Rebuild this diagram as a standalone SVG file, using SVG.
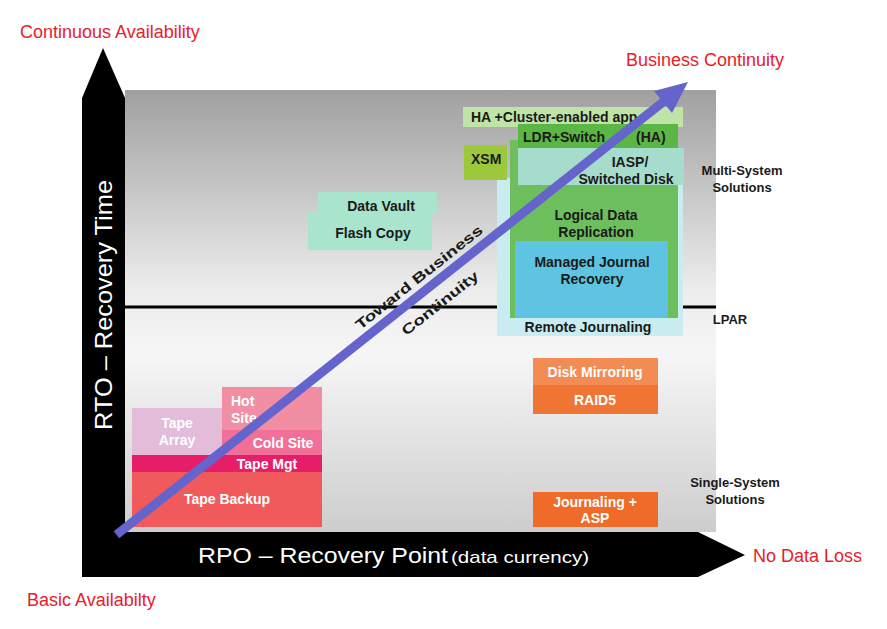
<svg xmlns="http://www.w3.org/2000/svg" width="887" height="629" viewBox="0 0 887 629">
<defs>
<linearGradient id="panel" x1="0" y1="0" x2="0" y2="1">
<stop offset="0" stop-color="#a0a0a0"/>
<stop offset="0.45" stop-color="#ececec"/>
<stop offset="0.6" stop-color="#f6f6f6"/>
<stop offset="1" stop-color="#cdcdcd"/>
</linearGradient>
<style>
.red{font-family:"Liberation Sans",Arial,sans-serif;font-size:18px;fill:#e8202a}
.lbl{font-family:"Liberation Sans",Arial,sans-serif;font-size:14px;font-weight:bold;fill:#1a1a1a}
.wl{font-family:"Liberation Sans",Arial,sans-serif;font-size:14px;font-weight:bold;fill:#ffffff}
.ax{font-family:"Liberation Sans",Arial,sans-serif;fill:#ffffff}
.side{font-family:"Liberation Sans",Arial,sans-serif;font-size:13px;font-weight:bold;fill:#1a1a1a}
.arrow{fill:#6464cc;stroke:none}
</style>
</defs>
<rect width="887" height="629" fill="#ffffff"/>

<g id="panel-bg">
<rect x="125" y="90" width="591" height="442" fill="url(#panel)"/>
</g>

<g id="y-axis">
<polygon points="103,48 125,98 125,577 82,577 82,98" fill="#000000"/>
<text class="ax" font-size="24" transform="translate(112,305) rotate(-90)" text-anchor="middle" textLength="250" lengthAdjust="spacingAndGlyphs">RTO – Recovery Time</text>
</g>
<g id="x-axis">
<polygon points="82,532 698,532 745,555 698,577 82,577" fill="#000000"/>
<text class="ax" x="198" y="563" font-size="22" textLength="250" lengthAdjust="spacingAndGlyphs">RPO – Recovery Point</text>
<text class="ax" x="451" y="563" font-size="17" textLength="138" lengthAdjust="spacingAndGlyphs">(data currency)</text>
</g>

<g id="lpar-line">
<line x1="125" y1="307" x2="716" y2="307" stroke="#000000" stroke-width="3"/>
</g>

<g id="remote-journaling">
<rect x="497" y="178" width="186" height="158" fill="#c8ecf0"/>
<text class="lbl" x="588" y="332" text-anchor="middle">Remote Journaling</text>
</g>
<g id="ha-cluster">
<rect x="463" y="107" width="220" height="20" fill="#bfe4a8"/>
<text class="lbl" x="471" y="122">HA +Cluster-enabled app</text>
</g>
<g id="logical-data-replication">
<rect x="510" y="140" width="168" height="178" fill="#6dbf5e"/>
<text class="lbl" x="596" y="220" text-anchor="middle">Logical Data</text>
<text class="lbl" x="596" y="237" text-anchor="middle">Replication</text>
</g>
<g id="ldr-switch">
<rect x="518" y="124" width="160" height="24" fill="#5cb645"/>
<text class="lbl" x="523" y="142">LDR+Switch</text>
<text class="lbl" x="636" y="142">(HA)</text>
</g>
<g id="xsm">
<rect x="464" y="145" width="43" height="35" fill="#9cc93c"/>
<text class="lbl" x="471" y="164">XSM</text>
</g>
<g id="iasp">
<rect x="518" y="148" width="166" height="37" fill="#a6dccb"/>
<text class="lbl" x="630" y="167" text-anchor="middle">IASP/</text>
<text class="lbl" x="626" y="184" text-anchor="middle">Switched Disk</text>
</g>
<g id="managed-journal">
<rect x="515" y="241" width="153" height="77" fill="#5ec4e2"/>
<text class="lbl" x="592" y="267" text-anchor="middle">Managed Journal</text>
<text class="lbl" x="592" y="284" text-anchor="middle">Recovery</text>
</g>

<g id="data-vault">
<rect x="318" y="192" width="119" height="22" fill="#a9e4cc"/>
<text class="lbl" x="381" y="211" text-anchor="middle">Data Vault</text>
</g>
<g id="flash-copy">
<rect x="308" y="212" width="124" height="38" fill="#a9e4cc"/>
<text class="lbl" x="373" y="238" text-anchor="middle">Flash Copy</text>
</g>

<g id="tape-array">
<rect x="132" y="408" width="90" height="47" fill="#e2bcd8"/>
<text class="wl" x="177" y="428" text-anchor="middle">Tape</text>
<text class="wl" x="177" y="445" text-anchor="middle">Array</text>
</g>
<g id="hot-site">
<rect x="222" y="387" width="100" height="43" fill="#f28ea4"/>
<text class="wl" x="231" y="406">Hot</text>
<text class="wl" x="231" y="423">Site</text>
</g>
<g id="cold-site">
<rect x="222" y="430" width="100" height="25" fill="#f07098"/>
<text class="wl" x="283" y="448" text-anchor="middle">Cold Site</text>
</g>
<g id="tape-mgt">
<rect x="132" y="455" width="190" height="17" fill="#e61e6a"/>
<text class="wl" x="267" y="469" text-anchor="middle">Tape Mgt</text>
</g>
<g id="tape-backup">
<rect x="132" y="472" width="190" height="55" fill="#f05a5c"/>
<text class="wl" x="227" y="504" text-anchor="middle">Tape Backup</text>
</g>

<g id="disk-mirroring">
<rect x="533" y="358" width="125" height="27" fill="#f38c54"/>
<text class="wl" x="595" y="377" text-anchor="middle">Disk Mirroring</text>
</g>
<g id="raid5">
<rect x="533" y="385" width="125" height="29" fill="#f07434"/>
<text class="wl" x="595" y="405" text-anchor="middle">RAID5</text>
</g>
<g id="journaling-asp">
<rect x="533" y="492" width="125" height="35" fill="#f06a28"/>
<text class="wl" x="595" y="507" text-anchor="middle">Journaling +</text>
<text class="wl" x="595" y="523" text-anchor="middle">ASP</text>
</g>

<g id="connectors">
<line x1="120" y1="532" x2="663" y2="102" stroke="#6464cc" stroke-width="9" stroke-linecap="square"/>
<polygon class="arrow" points="688,82 672,113 654,91"/>
</g>

<g id="arrow-label">
<text class="lbl" font-size="17" transform="translate(422,281) rotate(-38.5)" text-anchor="middle" textLength="158" lengthAdjust="spacingAndGlyphs">Toward Business</text>
<text class="lbl" font-size="17" transform="translate(443,307) rotate(-38.5)" text-anchor="middle" textLength="94" lengthAdjust="spacingAndGlyphs">Continuity</text>
</g>

<g id="side-labels">
<text class="side" x="742" y="175" text-anchor="middle">Multi-System</text>
<text class="side" x="742" y="192" text-anchor="middle">Solutions</text>
<text class="side" x="730" y="324" text-anchor="middle">LPAR</text>
<text class="side" x="735" y="487" text-anchor="middle">Single-System</text>
<text class="side" x="735" y="504" text-anchor="middle">Solutions</text>
</g>

<g id="red-labels">
<text class="red" x="20" y="38">Continuous Availability</text>
<text class="red" x="626" y="66">Business Continuity</text>
<text class="red" x="753" y="562">No Data Loss</text>
<text class="red" x="27" y="606">Basic Availabilty</text>
</g>
</svg>
